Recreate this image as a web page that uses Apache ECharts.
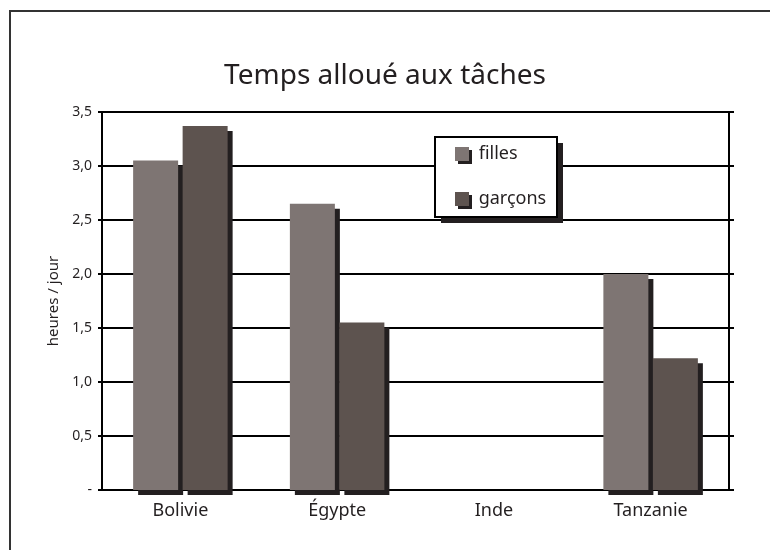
<!DOCTYPE html>
<html>
<head>
<meta charset="utf-8">
<script src="https://cdn.jsdelivr.net/npm/echarts@6/dist/echarts.min.js"></script>
<style>
html,body{margin:0;padding:0;background:#fff;}
#chart{width:770px;height:550px;}
</style>
</head>
<body>
<div id="chart"></div>
<script>
var categories = ['Bolivie', 'Égypte', 'Inde', 'Tanzanie'];
var filles = [3.05, 2.65, null, 2.0];
var garcons = [3.37, 1.55, null, 1.22];
var yTickLabels = ['-', '0,5', '1,0', '1,5', '2,0', '2,5', '3,0', '3,5'];
var seriesNames = ['filles', 'garçons'];

var FONT = 'Noto Sans';
var INK = '#231f20';
var chart = echarts.init(document.getElementById('chart'), null, {renderer: 'canvas'});
var shadow = {shadowColor: INK, shadowBlur: 0, shadowOffsetX: 5, shadowOffsetY: 5};

chart.setOption({
  animation: false,
  backgroundColor: '#fff',
  textStyle: {fontFamily: FONT, color: INK},
  title: {
    text: 'Temps alloué aux tâches',
    left: 'center',
    top: 57,
    textStyle: {fontFamily: FONT, fontSize: 28, fontWeight: 'normal', color: INK}
  },
  graphic: [{
    type: 'rect',
    shape: {x: 10, y: 11, width: 800, height: 600},
    style: {fill: 'none', stroke: '#333', lineWidth: 2},
    z: 100, silent: true
  }, {
    type: 'rect',
    shape: {x: 441, y: 143, width: 122, height: 80},
    style: {fill: INK},
    z: 10, silent: true
  }, {
    type: 'rect',
    shape: {x: 435, y: 137, width: 122, height: 80},
    style: {fill: '#fff', stroke: '#000', lineWidth: 2},
    z: 11, silent: true
  }],
  grid: {
    left: 102, right: 41, top: 112, bottom: 60,
    show: true, borderColor: '#000', borderWidth: 2, backgroundColor: 'transparent'
  },
  legend: {
    orient: 'vertical',
    left: 455, top: 145,
    padding: 0,
    itemGap: 27,
    itemWidth: 14, itemHeight: 14,
    icon: 'rect',
    z: 12,
    itemStyle: {shadowColor: INK, shadowBlur: 0, shadowOffsetX: 3, shadowOffsetY: 3},
    formatter: function (name) { return ' ' + name; },
    textStyle: {fontFamily: FONT, fontSize: 18, lineHeight: 18, color: INK},
    data: seriesNames
  },
  xAxis: {
    type: 'category',
    data: categories,
    axisLine: {show: true, lineStyle: {color: '#000', width: 2}},
    axisTick: {show: false},
    axisLabel: {fontFamily: FONT, fontSize: 18, color: INK, margin: 12}
  },
  yAxis: [{
    type: 'value',
    min: 0, max: 3.5, interval: 0.5,
    name: 'heures / jour',
    nameLocation: 'middle',
    nameGap: 41,
    nameRotate: 90,
    nameTextStyle: {fontFamily: FONT, fontSize: 15, color: INK},
    axisLine: {show: true, lineStyle: {color: '#000', width: 2}},
    axisTick: {show: true, length: 4, lineStyle: {color: '#000', width: 2}},
    axisLabel: {
      fontFamily: FONT, fontSize: 14, color: INK, margin: 10,
      formatter: function (v) { return yTickLabels[Math.round(v / 0.5)]; }
    },
    splitLine: {show: true, lineStyle: {color: '#000', width: 2}}
  }, {
    type: 'value',
    position: 'right',
    min: 0, max: 3.5, interval: 0.5,
    axisLine: {show: true, lineStyle: {color: '#000', width: 2}},
    axisTick: {show: true, length: 5, lineStyle: {color: '#000', width: 2}},
    axisLabel: {show: false},
    splitLine: {show: false}
  }],
  series: [{
    name: seriesNames[0],
    type: 'bar',
    data: filles,
    barWidth: 45,
    barGap: '10%',
    itemStyle: Object.assign({color: '#7e7573'}, shadow)
  }, {
    name: seriesNames[1],
    type: 'bar',
    data: garcons,
    barWidth: 45,
    barGap: '10%',
    itemStyle: Object.assign({color: '#5d534f'}, shadow)
  }]
});
</script>
</body>
</html>
